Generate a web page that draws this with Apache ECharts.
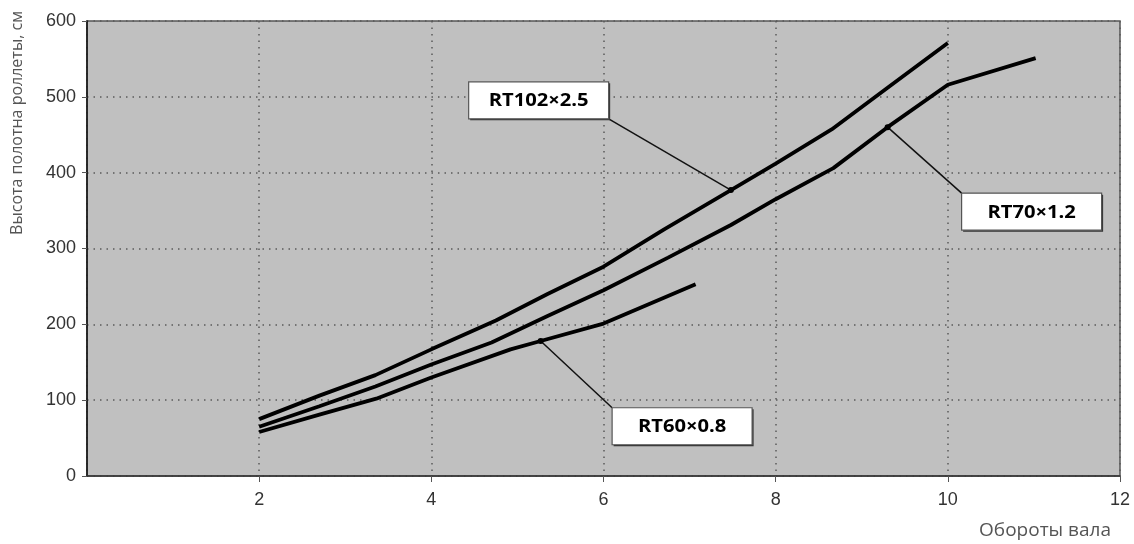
<!DOCTYPE html>
<html><head><meta charset="utf-8">
<script src="https://cdn.jsdelivr.net/npm/echarts@6/dist/echarts.min.js"></script>
<style>html,body{margin:0;padding:0;background:#fff}#c{width:1134px;height:544px}</style>
</head><body><div id="c"></div>
<script>
// ---- data ----
const xAxisTitle = 'Обороты вала';
const yAxisTitle = 'Высота полотна роллеты, см';
const seriesNames = ['RT102×2.5', 'RT70×1.2', 'RT60×0.8'];
const rt102X = [2, 2.7, 3.35, 4, 4.75, 5.35, 6, 6.7, 7.48, 8.0, 8.65, 9.3, 10];
const rt102Y = [75, 106, 133, 167, 205, 240, 276, 325, 377, 412, 457, 512, 571];
const rt70X  = [2, 2.7, 3.35, 4, 4.7, 5.35, 6, 6.75, 7.48, 8.0, 8.67, 9.3, 10, 11.02];
const rt70Y  = [65, 92, 118, 147, 176, 211, 245, 288, 331, 365, 406, 460, 516, 551];
const rt60X  = [2, 2.7, 3.36, 4, 4.92, 5.27, 6, 7.07];
const rt60Y  = [58, 81, 102, 130, 167, 178, 201, 253];
// annotation anchors (on the curves) and box corners, data units
const labelAnchorX = [7.48, 9.3, 5.27];
const labelAnchorY = [377, 460, 178];
const labelBoxX = [6.06, 10.16, 6.10];
const labelBoxY = [471, 373, 90];
const labelBoxCorner = ['br', 'tl', 'tl'];

const pair = (xs, ys) => xs.map((x, i) => [x, ys[i]]);
const seriesData = [pair(rt102X, rt102Y), pair(rt70X, rt70Y), pair(rt60X, rt60Y)];

const chart = echarts.init(document.getElementById('c'), null, {renderer: 'canvas'});
const dotted = {color: '#5a5a5a', width: 1.5, type: [1.5, 5]};
const option = {
  animation: false,
  backgroundColor: '#fff',
  grid: {left: 87, right: 14, top: 21, bottom: 68, show: true, backgroundColor: '#c0c0c0', borderColor: '#555', borderWidth: 1.5},
  xAxis: {
    type: 'value', min: 0, max: 12, interval: 2,
    axisLine: {show: true, onZero: false, lineStyle: {color: '#333', width: 1.5}},
    axisTick: {show: true, length: 6, lineStyle: {color: '#555'}},
    axisLabel: {showMinLabel: false, margin: 15, color: '#333', fontFamily: 'Liberation Sans', fontSize: 18},
    splitLine: {show: true, lineStyle: dotted}
  },
  yAxis: {
    type: 'value', min: 0, max: 600, interval: 100,
    axisLine: {show: true, lineStyle: {color: '#111', width: 1.5}},
    axisTick: {show: true, length: 5, lineStyle: {color: '#555'}},
    axisLabel: {margin: 11, color: '#333', fontFamily: 'Liberation Sans', fontSize: 18},
    splitLine: {show: true, lineStyle: dotted}
  },
  series: seriesNames.map((n, i) => ({
    name: n, type: 'line', data: seriesData[i], showSymbol: false, symbol: 'none',
    lineStyle: {color: '#000', width: 3.8}, silent: true,
    markLine: {
      silent: true, symbol: 'none', label: {show: false},
      lineStyle: {color: '#111', width: 1.5, type: 'solid'},
      data: [[{coord: [labelAnchorX[i], labelAnchorY[i]]}, {coord: [labelBoxX[i], labelBoxY[i]]}]]
    }
  }))
};
chart.setOption(option);

const boxW = 140, boxH = 37;
const graphics = [];
seriesNames.forEach((n, i) => {
  const a = chart.convertToPixel({gridIndex: 0}, [labelAnchorX[i], labelAnchorY[i]]);
  const c = chart.convertToPixel({gridIndex: 0}, [labelBoxX[i], labelBoxY[i]]);
  let x0 = c[0], y0 = c[1];
  if (labelBoxCorner[i] === 'br') { x0 -= boxW; y0 -= boxH; }
  graphics.push({type: 'circle', shape: {cx: a[0], cy: a[1], r: 3}, style: {fill: '#000'}, z: 100});
  graphics.push({type: 'rect', shape: {x: x0 + 1.5, y: y0 + 1.5, width: boxW, height: boxH},
    style: {fill: '#333'}, z: 99});
  graphics.push({type: 'rect', shape: {x: x0, y: y0, width: boxW, height: boxH},
    style: {fill: '#fff', stroke: '#555', lineWidth: 1.2}, z: 100});
  graphics.push({type: 'text', x: x0 + boxW / 2, y: y0 + boxH / 2 + 1, scaleX: 1.12, z: 101,
    style: {text: n, align: 'center', verticalAlign: 'middle', fill: '#000',
      font: 'bold 18px "Open Sans"'}});
});
graphics.push({type: 'text', x: 17, y: 123, rotation: Math.PI / 2, z: 100,
  style: {text: yAxisTitle, align: 'center', verticalAlign: 'middle', fill: '#555', font: '16px "Open Sans"'}});
graphics.push({type: 'text', x: 1111, y: 531, z: 100,
  style: {text: xAxisTitle, align: 'right', verticalAlign: 'middle', fill: '#555', font: '19px "Open Sans"'}});
chart.setOption({graphic: graphics});
</script>
</body></html>
